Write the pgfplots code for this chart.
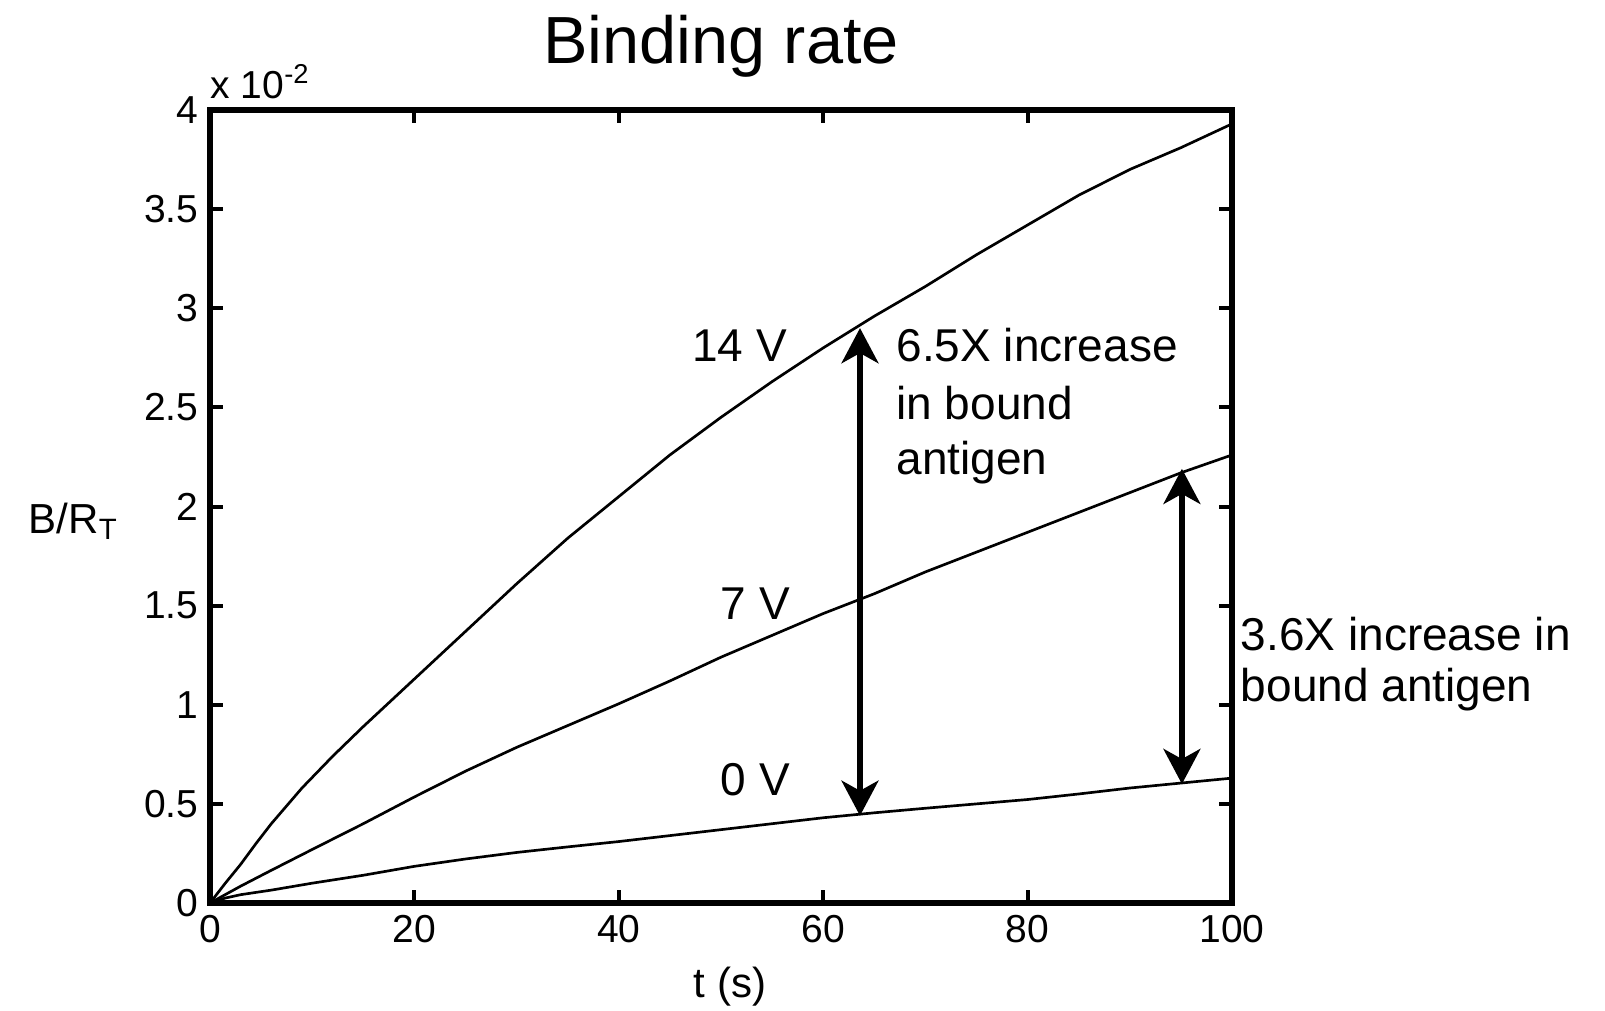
\documentclass[border=0pt]{standalone}
\usepackage{fontspec}
\setmainfont{Liberation Sans}
\usepackage{pgfplots}
\pgfplotsset{compat=1.18}
\usetikzlibrary{arrows.meta}
\begin{document}
\begin{tikzpicture}
\path[use as bounding box] (-63pt,-32.1pt) rectangle (418.5pt,270.9pt);
\begin{axis}[
  at={(0,0)}, anchor=south west,
  scale only axis,
  width=306.6pt, height=237.9pt,
  xmin=0, xmax=100, ymin=0, ymax=4,
  xtick={0,20,...,100},
  ytick={0,0.5,...,4},
  yticklabels={0,0.5,1,1.5,2,2.5,3,3.5,4},
  tick align=inside,
  major tick length=4pt,
  every tick/.style={black, line width=1.2pt},
  axis line style={line width=1.6pt},
  /pgf/number format/assume math mode=true,
  ticklabel style={font=\fontsize{11.7}{14}\selectfont},
  title={Binding rate},
  every axis title/.style={at={(rel axis cs:0.5,1)}, anchor=base, yshift=14pt, font=\fontsize{20}{24}\selectfont},
  xlabel={t (s)},
  every axis x label/.style={at={(rel axis cs:0.5,0)}, anchor=base, yshift=-28.2pt, xshift=2.7pt, font=\fontsize{12.6}{15}\selectfont},
  ylabel={B/R\textsubscript{T}},
  every axis y label/.style={at={(rel axis cs:0,0)}, anchor=base west, xshift=-57.9pt, yshift=111pt, font=\fontsize{12.6}{15}\selectfont},
  clip=false,
]
% 14 V
\addplot[black, line width=0.8pt] coordinates {
 (0,0) (1.5,0.10) (3,0.195) (4.5,0.30) (6,0.40) (9,0.58) (12,0.74) (15,0.89) (20,1.13) (25,1.37) (30,1.61) (35,1.84) (40,2.05) (45,2.26) (50,2.45) (55,2.63) (60,2.80) (65,2.96) (70,3.11) (75,3.27) (80,3.42) (85,3.57) (90,3.70) (95,3.81) (100,3.93)
};
% 7 V
\addplot[black, line width=0.8pt] coordinates {
 (0,0) (3,0.085) (6,0.165) (10,0.27) (15,0.40) (20,0.535) (25,0.665) (30,0.785) (35,0.895) (40,1.005) (45,1.12) (50,1.24) (55,1.35) (60,1.46) (65,1.56) (70,1.67) (75,1.77) (80,1.87) (85,1.97) (90,2.07) (95,2.17) (100,2.26)
};
% 0 V
\addplot[black, line width=0.8pt] coordinates {
 (0,0) (1.5,0.025) (3,0.042) (6,0.065) (10,0.10) (15,0.14) (20,0.185) (25,0.222) (30,0.255) (35,0.283) (40,0.31) (45,0.34) (50,0.37) (55,0.40) (60,0.43) (65,0.455) (70,0.478) (75,0.50) (80,0.522) (85,0.55) (90,0.58) (95,0.605) (100,0.63)
};
\draw[line width=2pt, {Stealth[length=10.5pt,width=11pt,inset=3pt]}-{Stealth[length=10.5pt,width=11pt,inset=3pt]}]
  (axis cs:63.6,0.44) -- (axis cs:63.6,2.90);
\draw[line width=2pt, {Stealth[length=10.5pt,width=11pt,inset=3pt]}-{Stealth[length=10.5pt,width=11pt,inset=3pt]}]
  (axis cs:95.1,0.60) -- (axis cs:95.1,2.19);
\node[anchor=base east, inner sep=0pt, font=\fontsize{13.8}{17}\selectfont] at (axis cs:56.5,2.73) {14 V};
\node[anchor=base east, inner sep=0pt, font=\fontsize{13.8}{17}\selectfont] at (axis cs:56.8,1.43) {7 V};
\node[anchor=base east, inner sep=0pt, font=\fontsize{13.8}{17}\selectfont] at (axis cs:56.8,0.54) {0 V};
\node[anchor=base west, inner sep=0pt, font=\fontsize{13.8}{17}\selectfont] at (axis cs:67.1,2.729) {6.5X increase};
\node[anchor=base west, inner sep=0pt, font=\fontsize{13.8}{17}\selectfont] at (axis cs:67.1,2.441) {in bound};
\node[anchor=base west, inner sep=0pt, font=\fontsize{13.8}{17}\selectfont] at (axis cs:67.1,2.159) {antigen};
\node[anchor=base west, inner sep=0pt, font=\fontsize{13.8}{17}\selectfont] at (axis cs:100.8,1.276) {3.6X increase in};
\node[anchor=base west, inner sep=0pt, font=\fontsize{13.8}{17}\selectfont] at (axis cs:100.8,1.014) {bound antigen};
\node[anchor=base west, inner sep=0pt, font=\fontsize{11.7}{14}\selectfont] at (rel axis cs:0,1) [yshift=3.6pt] {x 10\textsuperscript{-2}};
\end{axis}
\end{tikzpicture}
\end{document}
